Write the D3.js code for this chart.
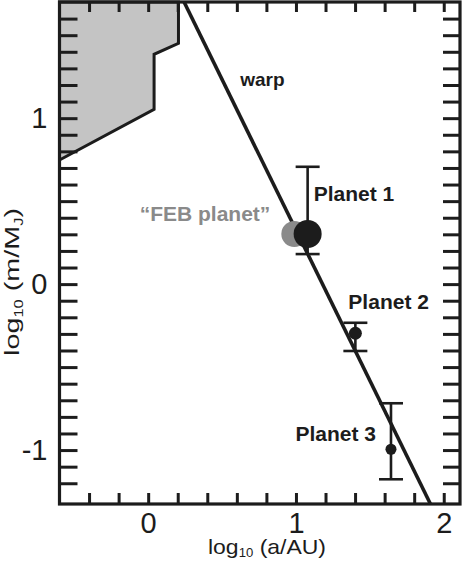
<!DOCTYPE html>
<html>
<head>
<meta charset="utf-8">
<script src="https://cdn.jsdelivr.net/npm/d3@7"></script>
<style>
  body { margin: 0; background: #fff; }
  svg { display: block; font-family: "Liberation Sans", Arial, sans-serif; }
</style>
</head>
<body>
<div class="chart"></div>
<script>
const w = 463;
const h = 561;

// planets: log10(a/AU), log10(m/MJ), error bar top / bottom
const planetNames = ["Planet 1", "Planet 2", "Planet 3"];
const planetA = [1.079, 1.402, 1.643];
const planetM = [0.302, -0.296, -0.995];
const planetHi = [0.707, -0.233, -0.718];
const planetLo = [0.181, -0.403, -1.176];

const febA = 0.989;
const febM = 0.302;

// warp line end points
const warpA = [0.243, 1.910];
const warpM = [1.70, -1.325];

// grey excluded region
const regionA = [-0.6, 0.040, 0.040, 0.205, 0.205, -0.6];
const regionM = [0.748, 1.053, 1.385, 1.451, 1.70, 1.70];

const xMajor = [0, 1, 2];
const yMajor = [-1, 0, 1];
const xMinor = [-0.4, -0.2, 0, 0.2, 0.4, 0.6, 0.8, 1, 1.2, 1.4, 1.6, 1.8, 2];
const yMinor = [-1.2, -1.1, -1, -0.9, -0.8, -0.7, -0.6, -0.5, -0.4, -0.3, -0.2, -0.1, 0,
                0.1, 0.2, 0.3, 0.4, 0.5, 0.6, 0.7, 0.8, 0.9, 1, 1.1, 1.2, 1.3, 1.4, 1.5, 1.6];

const ink = "#1c1c1c";

let svg = d3.select(".chart").append("svg")
  .attr("width", w)
  .attr("height", h);

let x = d3.scaleLinear().domain([-0.6, 2.11]).range([59.5, 460]);
let y = d3.scaleLinear().domain([-1.325, 1.7]).range([504, 2]);

// grey region
let regionPts = regionA.map((a, i) => [x(a), y(regionM[i])]);
svg.append("path")
  .attr("d", d3.line()(regionPts) + "Z")
  .attr("fill", "#c4c4c4")
  .attr("stroke", ink)
  .attr("stroke-width", 3)
  .attr("stroke-linejoin", "miter");

// warp line
svg.append("line")
  .attr("x1", x(warpA[0])).attr("y1", y(warpM[0]))
  .attr("x2", x(warpA[1])).attr("y2", y(warpM[1]))
  .attr("stroke", ink)
  .attr("stroke-width", 3.6);

// error bars
const capW = 12;
let bars = svg.append("g").attr("stroke", ink).attr("stroke-width", 2.6);
planetA.forEach((a, i) => {
  let cx = x(a);
  bars.append("line").attr("x1", cx).attr("x2", cx)
    .attr("y1", y(planetHi[i])).attr("y2", y(planetLo[i]));
  bars.append("line").attr("x1", cx - capW).attr("x2", cx + capW)
    .attr("y1", y(planetHi[i])).attr("y2", y(planetHi[i]));
  bars.append("line").attr("x1", cx - capW).attr("x2", cx + capW)
    .attr("y1", y(planetLo[i])).attr("y2", y(planetLo[i]));
});

// FEB planet (grey) then planets
svg.append("circle")
  .attr("cx", x(febA)).attr("cy", y(febM)).attr("r", 13)
  .attr("fill", "#8a8a8a");

const dotR = [14, 6.5, 5.5];
svg.selectAll(".planet")
  .data(planetA)
  .enter()
  .append("circle")
  .attr("class", "planet")
  .attr("cx", d => x(d))
  .attr("cy", (d, i) => y(planetM[i]))
  .attr("r", (d, i) => dotR[i])
  .attr("fill", ink);

// labels
const lblOff = [[6, -33, "start"], [-7, -24, "start"], [-15, -8.6, "end"]];
planetNames.forEach((name, i) => {
  svg.append("text")
    .text(name)
    .attr("x", x(planetA[i]) + lblOff[i][0])
    .attr("y", y(planetM[i]) + lblOff[i][1])
    .attr("text-anchor", lblOff[i][2])
    .attr("font-size", 21)
    .attr("font-weight", "bold")
    .attr("fill", ink);
});

svg.append("text")
  .text("\u201CFEB planet\u201D")
  .attr("x", x(febA) - 24)
  .attr("y", y(febM) - 12.5)
  .attr("text-anchor", "end")
  .attr("font-size", 21)
  .attr("font-weight", "bold")
  .attr("fill", "#8a8a8a");

svg.append("text")
  .text("warp")
  .attr("x", x(0.623))
  .attr("y", y(1.194))
  .attr("font-size", 19)
  .attr("font-weight", "bold")
  .attr("fill", ink);

// frame
svg.append("rect")
  .attr("x", x(-0.6)).attr("y", y(1.7))
  .attr("width", x(2.11) - x(-0.6))
  .attr("height", y(-1.325) - y(1.7))
  .attr("fill", "none")
  .attr("stroke", ink)
  .attr("stroke-width", 3.2);

// inward ticks on all four sides
let styleTicks = g => {
  g.select(".domain").remove();
  g.selectAll(".tick line").attr("stroke", ink).attr("stroke-width", 3);
};

svg.append("g")
  .attr("transform", "translate(0," + y(-1.325) + ")")
  .call(d3.axisBottom(x).tickValues(xMinor).tickSize(-11).tickFormat(""))
  .call(styleTicks);
svg.append("g")
  .attr("transform", "translate(0," + y(1.7) + ")")
  .call(d3.axisTop(x).tickValues(xMinor).tickSize(-10).tickFormat(""))
  .call(styleTicks);
svg.append("g")
  .attr("transform", "translate(" + x(-0.6) + ",0)")
  .call(d3.axisLeft(y).tickValues(yMinor).tickSize(-18).tickFormat(""))
  .call(styleTicks);
svg.append("g")
  .attr("transform", "translate(" + x(2.11) + ",0)")
  .call(d3.axisRight(y).tickValues(yMinor).tickSize(-17).tickFormat(""))
  .call(styleTicks);

// tick labels
let xLab = svg.append("g")
  .attr("transform", "translate(0," + y(-1.325) + ")")
  .call(d3.axisBottom(x).tickValues(xMajor).tickSize(0).tickPadding(8).tickFormat(d => String(d)));
let yLab = svg.append("g")
  .attr("transform", "translate(" + x(-0.6) + ",0)")
  .call(d3.axisLeft(y).tickValues(yMajor).tickSize(0).tickPadding(12).tickFormat(d => String(d)));
[xLab, yLab].forEach(g => {
  g.select(".domain").remove();
  g.selectAll("text")
    .attr("font-size", 29)
    .attr("font-family", "Liberation Sans, Arial, sans-serif")
    .attr("fill", ink);
});

// axis titles
let xt = svg.append("text")
  .attr("x", 208)
  .attr("y", 554)
  .attr("font-size", 21)
  .attr("fill", ink)
  .attr("textLength", 118)
  .attr("lengthAdjust", "spacingAndGlyphs");
xt.append("tspan").text("log");
xt.append("tspan").text("10").attr("font-size", 12).attr("dy", 3);
xt.append("tspan").text(" (a/AU)").attr("dy", -3);

let yt = svg.append("text")
  .attr("transform", "translate(19,356) rotate(-90)")
  .attr("font-size", 21)
  .attr("fill", ink)
  .attr("textLength", 148)
  .attr("lengthAdjust", "spacingAndGlyphs");
yt.append("tspan").text("log");
yt.append("tspan").text("10").attr("font-size", 12).attr("dy", 4);
yt.append("tspan").text(" (m/M").attr("dy", -4);
yt.append("tspan").text("J").attr("font-size", 12).attr("dy", 4);
yt.append("tspan").text(")").attr("dy", -4);
</script>
</body>
</html>
